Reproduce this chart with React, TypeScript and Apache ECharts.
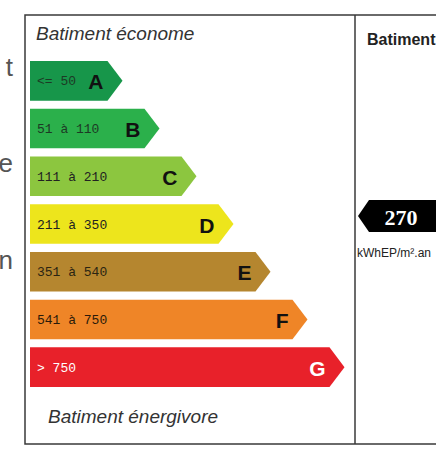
import React, { useEffect, useRef } from "react";
import * as echarts from "echarts";

const categories = ["A", "B", "C", "D", "E", "F", "G"];
const ranges = ["<= 50", "51 à 110", "111 à 210", "211 à 350", "351 à 540", "541 à 750", "> 750"];
const upperBounds = [50, 110, 210, 350, 540, 750, Infinity];
const barLengths = [2.5, 3.5, 4.5, 5.5, 6.5, 7.5, 8.5];
const barColors = ["#17964a", "#2bb04b", "#8cc63f", "#ede51c", "#b5862f", "#ef8527", "#e8212a"];
const letterColors = ["#111", "#111", "#111", "#111", "#111", "#111", "#ffffff"];
const rangeColors = ["#1d3a25", "#1d3a25", "#222", "#222", "#2a2412", "#2a1a0a", "#ffffff"];
const consumption = 270;
const unitLabel = "kWhEP/m².an";
const topTitle = "Batiment économe";
const bottomTitle = "Batiment énergivore";
const rightTitle = "Batiment";
const sideFragments = ["t", "e", "n"];

export default function App() {
  const ref = useRef<HTMLDivElement>(null);
  useEffect(() => {
    document.body.style.margin = "0";
    const chart = echarts.init(ref.current!, null, { renderer: "svg" });
    const classIdx = upperBounds.findIndex((u) => consumption <= u);
    const option: any = {
      animation: false,
      backgroundColor: "#ffffff",
      textStyle: { fontFamily: "Liberation Sans" },
      grid: { left: 30, top: 57, width: 370, height: 334 },
      xAxis: { type: "value", min: 0, max: 10, show: false },
      yAxis: { type: "category", data: categories, inverse: true, show: false },
      graphic: [
        {
          type: "rect",
          shape: { x: 25, y: 15, width: 430, height: 429 },
          style: { fill: "none", stroke: "#3a3a3a", lineWidth: 1.5 },
        },
        {
          type: "line",
          shape: { x1: 355, y1: 15, x2: 355, y2: 444 },
          style: { stroke: "#3a3a3a", lineWidth: 1.5 },
        },
        {
          type: "text",
          x: 36,
          y: 43,
          style: {
            text: topTitle,
            font: "italic 19px 'Liberation Sans'",
            fill: "#333",
            textVerticalAlign: "bottom",
          },
        },
        {
          type: "text",
          x: 48,
          y: 426,
          style: {
            text: bottomTitle,
            font: "italic 19px 'Liberation Sans'",
            fill: "#333",
            textVerticalAlign: "bottom",
          },
        },
        {
          type: "text",
          x: 367,
          y: 47,
          style: {
            text: rightTitle,
            font: "bold 16px 'Liberation Sans'",
            fill: "#222",
            textVerticalAlign: "bottom",
          },
        },
        ...sideFragments.map((t, i) => ({
          type: "text",
          x: 13,
          y: [80, 176, 273][i],
          style: {
            text: t,
            font: "26px 'Liberation Sans'",
            fill: "#555",
            textAlign: "right",
            textVerticalAlign: "bottom",
          },
        })),
      ],
      series: [
        {
          type: "custom",
          encode: { x: 1, y: 0 },
          data: categories.map((c, i) => [i, barLengths[i]]),
          renderItem: (params: any, api: any) => {
            const idx = api.value(0);
            const len = api.value(1);
            const start = api.coord([0, idx]);
            const end = api.coord([len, idx]);
            const cy = start[1];
            const h = api.size([0, 1])[1] * 0.83;
            const d = 15;
            return {
              type: "group",
              children: [
                {
                  type: "polygon",
                  shape: {
                    points: [
                      [start[0], cy - h / 2],
                      [end[0] - d, cy - h / 2],
                      [end[0], cy],
                      [end[0] - d, cy + h / 2],
                      [start[0], cy + h / 2],
                    ],
                  },
                  style: { fill: barColors[idx] },
                },
                {
                  type: "text",
                  x: start[0] + 7,
                  y: cy + 1,
                  style: {
                    text: ranges[idx],
                    font: "13px 'Liberation Mono'",
                    fill: rangeColors[idx],
                    textVerticalAlign: "middle",
                  },
                },
                {
                  type: "text",
                  x: end[0] - 19,
                  y: cy + 1,
                  style: {
                    text: categories[idx],
                    font: "bold 21px 'Liberation Sans'",
                    fill: letterColors[idx],
                    textAlign: "right",
                    textVerticalAlign: "middle",
                  },
                },
              ],
            };
          },
        },
        {
          type: "custom",
          encode: { x: 1, y: 0 },
          data: [[classIdx, consumption]],
          renderItem: (params: any, api: any) => {
            const idx = api.value(0);
            const val = api.value(1);
            const cy = api.coord([0, idx])[1] - 8;
            const tip = 358;
            const hh = 16;
            return {
              type: "group",
              children: [
                {
                  type: "polygon",
                  shape: {
                    points: [
                      [tip, cy],
                      [tip + 11, cy - hh],
                      [445, cy - hh],
                      [445, cy + hh],
                      [tip + 11, cy + hh],
                    ],
                  },
                  style: { fill: "#000" },
                },
                {
                  type: "text",
                  x: 401,
                  y: cy + 1,
                  style: {
                    text: String(val),
                    font: "bold 22px 'Liberation Serif'",
                    fill: "#fff",
                    textAlign: "center",
                    textVerticalAlign: "middle",
                  },
                },
                {
                  type: "text",
                  x: 357,
                  y: cy + 37,
                  style: {
                    text: unitLabel,
                    font: "12px 'Liberation Sans Narrow', 'Liberation Sans'",
                    fill: "#222",
                    textVerticalAlign: "middle",
                  },
                },
              ],
            };
          },
        },
      ],
    };
    chart.setOption(option);
    return () => chart.dispose();
  }, []);
  return <div ref={ref} style={{ width: 436, height: 458 }} />;
}
